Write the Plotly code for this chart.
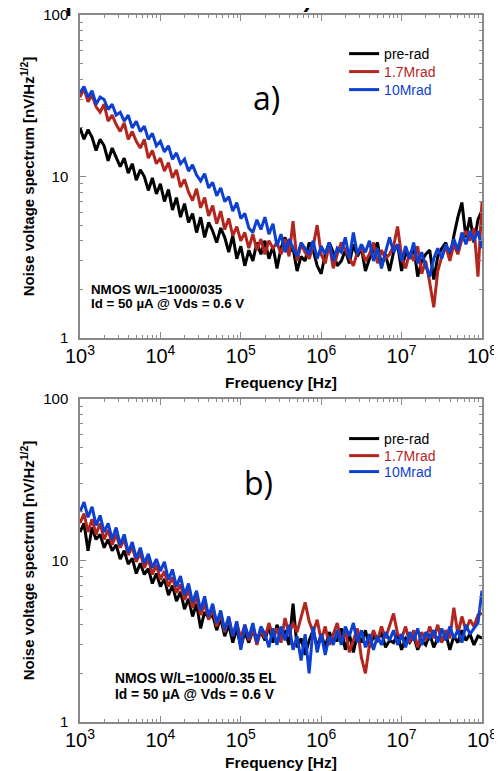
import plotly.graph_objects as go
from plotly.subplots import make_subplots

# log10 of frequency [Hz] sample points
LOG_F = [3.00, 3.05, 3.10, 3.15, 3.20, 3.25, 3.30, 3.35, 3.40, 3.45,
         3.50, 3.55, 3.60, 3.65, 3.70, 3.75, 3.80, 3.85, 3.90, 3.95,
         4.00, 4.05, 4.10, 4.15, 4.20, 4.25, 4.30, 4.35, 4.40, 4.45,
         4.50, 4.55, 4.60, 4.65, 4.70, 4.75, 4.80, 4.85, 4.90, 4.95,
         5.00, 5.05, 5.10, 5.15, 5.20, 5.25, 5.30, 5.35, 5.40, 5.45,
         5.50, 5.55, 5.60, 5.65, 5.70, 5.75, 5.80, 5.85, 5.90, 5.95,
         6.00, 6.05, 6.10, 6.15, 6.20, 6.25, 6.30, 6.35, 6.40, 6.45,
         6.50, 6.55, 6.60, 6.65, 6.70, 6.75, 6.80, 6.85, 6.90, 6.95,
         7.00, 7.05, 7.10, 7.15, 7.20, 7.25, 7.30, 7.35, 7.40, 7.45,
         7.50, 7.55, 7.60, 7.65, 7.70, 7.75, 7.80, 7.85, 7.90, 7.95,
         8.00]
FREQ = [10 ** e for e in LOG_F]

# ---- panel a) NMOS W/L=1000/035 ----
A_PRERAD = [20, 17, 19.5, 17.5, 14.5, 17, 15.5, 12.5, 15, 13,
            11.5, 13, 10.5, 12, 9.5, 11, 10, 8.2, 9.8, 7.8,
            9, 7.0, 8.3, 6.2, 7.4, 5.6, 6.8, 5.2, 5.9, 4.5,
            5.6, 4.2, 5.2, 4.6, 3.9, 4.8, 4.2, 3.4, 4.3, 3.1,
            3.7, 2.8, 3.5, 3.0, 3.9, 3.3, 4.0, 3.1, 3.7, 2.7,
            3.6, 4.2, 3.4, 3.6, 2.6, 3.2, 3.0, 3.9, 3.5, 2.8,
            2.5, 3.3, 3.9, 3.4, 2.8, 3.0, 3.5, 2.9, 3.8, 3.2,
            3.6, 2.6, 3.1, 3.5, 3.9, 2.8, 3.3, 2.6, 3.4, 3.8,
            2.6, 3.4, 3.1, 3.7, 2.4, 3.0, 3.3, 3.5, 2.3, 3.2,
            3.6, 3.9, 3.1, 4.3, 5.6, 6.9, 4.2, 5.6, 3.9, 5.4,
            6.2]
A_17MRAD = [31, 35, 29, 32, 27, 25, 28, 22, 24, 21,
            19, 21.5, 17, 19, 16.5, 15, 17, 13, 14.5, 12,
            13, 10.8, 12.2, 9.8, 11, 8.6, 9.6, 8.0, 7.1, 8.4,
            6.4, 7.4, 5.7, 6.6, 5.1, 6.1, 4.7, 5.5, 4.3, 4.9,
            4.0, 4.5, 3.6, 4.4, 3.5, 4.1, 3.3, 4.0, 3.6, 3.9,
            3.3, 4.1, 3.2, 5.3, 3.0, 3.8, 3.4, 3.1, 3.7, 5.0,
            3.3, 2.9, 3.8, 2.7, 3.3, 3.9, 3.5, 3.1, 2.8, 3.4,
            3.6, 3.0, 3.3, 3.9, 2.9, 3.5, 3.1, 3.3, 3.7, 4.9,
            3.2, 2.7, 3.4, 3.0, 3.7, 2.5, 3.0, 2.2, 1.55, 2.6,
            3.2, 3.7, 3.0, 3.8, 3.3, 4.1, 4.6, 4.0, 4.8, 2.4,
            7.0]
A_10MRAD = [33, 36, 31, 34, 28, 31, 30, 26, 28, 24,
            25, 22, 24, 20, 22, 19, 20.5, 17, 18.5, 15.5,
            16.5, 14.2, 15.5, 12.8, 14, 12, 12.8, 10.8, 11.8, 10.2,
            9.4, 10.4, 8.5, 9.2, 7.6, 8.5, 7.0, 7.5, 6.1, 6.9,
            5.5, 5.9, 4.8, 4.5, 5.4, 4.7, 5.6, 4.4, 5.1, 3.7,
            4.4, 3.4, 4.1, 3.6, 3.2, 3.9, 3.6, 3.3, 4.0, 3.1,
            3.7, 3.3, 3.9, 3.0, 3.6, 3.4, 4.2, 3.1, 4.5, 3.3,
            3.8, 3.4, 4.0, 3.0, 3.6, 2.7, 3.4, 4.2, 3.4, 3.8,
            3.0, 3.7, 3.1, 3.9, 2.9, 3.4, 2.8, 2.4, 3.1, 3.6,
            3.1, 3.8, 3.4, 4.1, 3.5, 4.5, 3.8, 4.6, 4.0, 4.6,
            3.6]

# ---- panel b) NMOS W/L=1000/0.35 EL ----
B_PRERAD = [15, 17, 11.5, 16, 13.5, 14.5, 12, 13.5, 11.5, 12.5,
            10.2, 11.5, 9.5, 10.3, 8.3, 9.6, 8.2, 8.9, 7.2, 8.3,
            6.9, 7.7, 6.1, 7.0, 5.6, 6.4, 5.0, 5.8, 4.5, 5.4,
            3.8, 4.8, 4.4, 4.6, 3.7, 4.4, 3.4, 4.0, 3.1, 3.8,
            2.9, 3.6, 3.1, 3.7, 3.3, 3.6, 3.2, 3.9, 3.1, 4.0,
            3.4, 3.6, 3.0, 5.4, 2.9, 3.3, 2.6, 3.2, 3.7, 2.9,
            3.5, 2.9, 3.6, 3.2, 3.2, 3.8, 2.8, 3.5, 2.7, 3.5,
            3.1, 3.7, 2.9, 3.4, 3.2, 3.6, 2.9, 3.2, 3.1, 3.5,
            2.8, 3.3, 3.1, 3.4, 2.8, 3.2, 3.0, 3.5, 2.9, 3.3,
            3.2, 3.5, 2.8, 3.4, 3.1, 3.7, 3.2, 3.5, 3.0, 3.4,
            3.3]
B_17MRAD = [17, 19.5, 15, 18, 14.5, 17, 13.5, 15.5, 12.5, 14.5,
            12, 13.5, 10.8, 12.2, 9.8, 11.2, 9.0, 10.2, 8.2, 9.4,
            7.6, 8.6, 6.9, 7.9, 6.3, 7.1, 5.7, 6.6, 5.1, 6.0,
            4.6, 5.4, 4.3, 5.0, 3.9, 4.7, 3.6, 4.4, 3.4, 4.1,
            3.3, 4.0, 3.2, 3.8, 3.0, 3.7, 3.3, 4.1, 3.4, 3.8,
            3.1, 4.4, 3.5, 4.1, 3.6, 4.5, 5.5, 4.2, 3.6, 4.3,
            3.2, 3.9, 3.0, 3.5, 4.1, 3.1, 3.7, 2.7, 3.2, 3.8,
            2.5, 2.0, 3.0, 3.7, 3.2, 3.9, 3.3, 4.0, 4.7, 3.5,
            3.3, 3.9, 3.1, 3.7, 2.9, 3.6, 3.2, 3.9, 3.3, 4.0,
            3.1, 3.7, 3.3, 5.1, 3.5, 4.5, 3.7, 4.3, 3.9, 4.6,
            4.7]
B_10MRAD = [20, 23, 18.5, 21.5, 16.5, 19, 15, 17, 13.5, 16,
            12.5, 14.5, 11.2, 13, 10.3, 12, 9.6, 11, 9.0, 10.2,
            8.6, 9.8, 7.6, 8.8, 6.9, 8.0, 6.1, 7.2, 5.5, 6.5,
            4.9, 6.0, 4.5, 5.4, 4.1, 4.9, 3.7, 4.5, 3.4, 4.2,
            2.8, 4.0, 3.3, 4.1, 3.1, 3.9, 3.5, 2.9, 3.8, 3.0,
            3.9, 3.2, 4.0, 2.8, 3.4, 2.4, 3.5, 2.0, 3.9, 2.7,
            3.5, 2.6, 3.4, 3.0, 3.7, 3.0, 3.9, 3.4, 4.1, 3.1,
            3.7, 2.9, 3.5, 2.8, 3.4, 3.0, 3.6, 3.2, 3.7, 3.0,
            3.5, 2.9, 3.6, 3.2, 3.8, 3.0, 3.6, 3.3, 3.7, 3.1,
            3.8, 3.2, 3.9, 3.3, 3.7, 3.1, 4.0, 3.5, 3.8, 4.1,
            6.5]

SERIES_NAMES = ["pre-rad", "1.7Mrad", "10Mrad"]
COLORS = ["#000000", "#b3261e", "#0d3fd1"]

FONT = "Liberation Sans, Arial"
# one single-entry legend per trace so the rows can be spaced like the original
LEGEND_ROWS_A = [0.9448, 0.9194, 0.8939]
LEGEND_ROWS_B = [0.4003, 0.3762, 0.3536]
LEGEND_X = 0.657

fig = make_subplots(rows=2, cols=1, vertical_spacing=0.0862)

legend_layout = {}
k = 0
panels = [(1, [A_PRERAD, A_17MRAD, A_10MRAD], LEGEND_ROWS_A),
          (2, [B_PRERAD, B_17MRAD, B_10MRAD], LEGEND_ROWS_B)]
for row, ys, rows_y in panels:
    for name, color, y, ly in zip(SERIES_NAMES, COLORS, ys, rows_y):
        k += 1
        leg = "legend" if k == 1 else f"legend{k}"
        fig.add_trace(go.Scatter(
            x=FREQ, y=y, mode="lines",
            name=name,
            line=dict(color=color, width=3),
            legend=leg, showlegend=True,
        ), row=row, col=1)
        legend_layout[leg] = dict(
            font=dict(family=FONT, size=14, color=color),
            bgcolor="rgba(0,0,0,0)", borderwidth=0,
            x=LEGEND_X, y=ly, xanchor="left", yanchor="middle",
            itemclick=False, itemdoubleclick=False,
        )

axis_common = dict(
    type="log", showgrid=False, zeroline=False, automargin=False,
    showline=True, linecolor="#8a8a8a", linewidth=1.5,
    mirror="ticks", ticks="inside", ticklen=6, tickcolor="#8a8a8a", tickwidth=1,
    minor=dict(ticks="inside", ticklen=3, tickcolor="#8a8a8a", dtick="D1", showgrid=False),
    tickfont=dict(family=FONT, size=16, color="black"),
    ticklabeloverflow="allow",
)
for r in (1, 2):
    fig.update_xaxes(axis_common, row=r, col=1, range=[3, 8], tickmode="linear", tick0=0, dtick=1,
                     exponentformat="power", showexponent="all",
                     title=dict(text="<b>Frequency [Hz]</b>", standoff=11,
                                font=dict(family=FONT, size=15.5, color="black")))
    fig.update_yaxes(axis_common, row=r, col=1, range=[0, 2], tickmode="linear", tick0=0, dtick=1,
                     tickfont=dict(family=FONT, size=15, color="black"), ticklabelstandoff=7,
                     title=dict(text="<b>Noise voltage spectrum [nV/Hz<sup>1/2</sup>]</b>", standoff=5,
                                font=dict(family=FONT, size=15, color="black")))

fig.update_layout(
    width=494, height=763,
    margin=dict(l=72, r=20, t=7, b=49),
    paper_bgcolor="white", plot_bgcolor="white",
    showlegend=True,
    **legend_layout,
)

def note(xref, yref, x, y, text, size):
    fig.add_annotation(xref=xref, yref=yref, x=x, y=y, xanchor="left", yanchor="middle",
                       text=f"<b>{text}</b>", showarrow=False, align="left",
                       font=dict(family=FONT, size=size, color="black"))

note("x domain", "y domain", 0.022, 0.1517, "NMOS W/L=1000/035", 13.3)
note("x domain", "y domain", 0.022, 0.1084, "Id = 50 µA @ Vds = 0.6 V", 13.3)
note("x2 domain", "y2 domain", 0.082, 0.1362, "NMOS W/L=1000/0.35 EL", 13.8)
note("x2 domain", "y2 domain", 0.082, 0.0836, "Id = 50 µA @ Vds = 0.6 V", 13.8)

panel_font = dict(family="Open Sans, Noto Sans", size=32, color="black")
fig.add_annotation(xref="x domain", yref="y domain", x=0.465, y=0.745, text="a)", showarrow=False,
                   xanchor="center", yanchor="middle", font=panel_font)
fig.add_annotation(xref="x2 domain", yref="y2 domain", x=0.445, y=0.74, text="b)", showarrow=False,
                   xanchor="center", yanchor="middle", font=panel_font)
# cropped slide heading at the very top
fig.add_annotation(xref="paper", yref="paper", x=0.42, y=0.9925, xanchor="center", yanchor="bottom",
                   text="se up to 10 Mrad) total dose", showarrow=False,
                   font=dict(family="Open Sans, Noto Sans", size=40, color="black"))

fig.write_html("out.html")
